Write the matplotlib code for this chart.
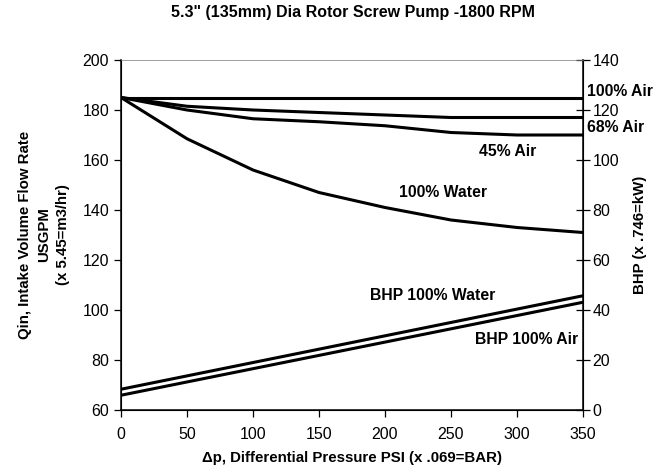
import matplotlib
matplotlib.use("Agg")
import matplotlib.pyplot as plt

plt.rcParams["font.family"] = ["Liberation Sans", "DejaVu Sans"]

# differential pressure, PSI
psi = [0, 50, 100, 150, 200, 250, 300, 350]

# intake flow, USGPM (left axis)
flow_air100 = [185, 185, 185, 185, 185, 185, 185, 185]
flow_air68 = [185, 181.5, 180, 179, 178, 177, 177, 177]
flow_air45 = [185, 180, 176.5, 175.3, 173.7, 171, 170, 170]
flow_water = [185, 168.5, 156, 147, 141, 136, 133, 131]

# brake horsepower (right axis)
bhp_psi = [0, 350]
bhp_water = [8.3, 45.7]
bhp_air = [5.9, 43.1]

fig = plt.figure(figsize=(6.69, 4.74), dpi=100)
ax = fig.add_axes([121 / 669, 1 - 410 / 474, 462 / 669, 350 / 474])
ax2 = ax.twinx()

for ys in (flow_air100, flow_air68, flow_air45, flow_water):
    ax.plot(psi, ys, color="black", linewidth=2.2, solid_joinstyle="round")
ax2.plot(bhp_psi, bhp_water, color="black", linewidth=2.2)
ax2.plot(bhp_psi, bhp_air, color="black", linewidth=2.2)

ax.set_xlim(0, 350)
ax.set_ylim(60, 200)
ax2.set_ylim(0, 140)
ax.set_xticks(range(0, 351, 50))
ax.set_yticks(range(60, 201, 20))
ax2.set_yticks(range(0, 141, 20))

ax.tick_params(axis="both", labelsize=11.5, direction="out", length=5, width=0.9)
ax.tick_params(axis="x", pad=7)
ax2.tick_params(axis="y", labelsize=11.5, direction="inout", length=10, width=0.9, pad=2)

for side in ("left", "bottom", "right"):
    ax2.spines[side].set_linewidth(1.1)
ax2.spines["top"].set_linewidth(0.5)
ax2.spines["top"].set_color("#777777")
ax.spines["top"].set_visible(False)

ax.set_xlabel("\u0394p, Differential Pressure PSI (x .069=BAR)", labelpad=7,
              fontsize=10.8, fontweight="bold")
ax.set_ylabel("Qin, Intake Volume Flow Rate\nUSGPM\n(x 5.45=m3/hr)", labelpad=9,
              linespacing=1.45, fontsize=10.8, fontweight="bold")
ax2.set_ylabel("BHP (x .746=kW)", labelpad=10, fontsize=10.8, fontweight="bold")
fig.suptitle("5.3\" (135mm) Dia Rotor Screw Pump -1800 RPM", x=353 / 669, y=1 - 5 / 474,
             va="top", fontsize=11.5, fontweight="bold")

lbl = dict(fontsize=11.3, fontweight="bold", clip_on=False)
ax.text(353, 187.2, "100% Air", ha="left", va="center", **lbl)
ax.text(353, 173.1, "68% Air", ha="left", va="center", **lbl)
ax.text(293, 163.5, "45% Air", ha="center", va="center", **lbl)
ax.text(244, 147, "100% Water", ha="center", va="center", **lbl)
ax.text(236, 105.8, "BHP 100% Water", ha="center", va="center", **lbl)
ax.text(307, 88.3, "BHP 100% Air", ha="center", va="center", **lbl)

fig.savefig("out.png", dpi=100)
